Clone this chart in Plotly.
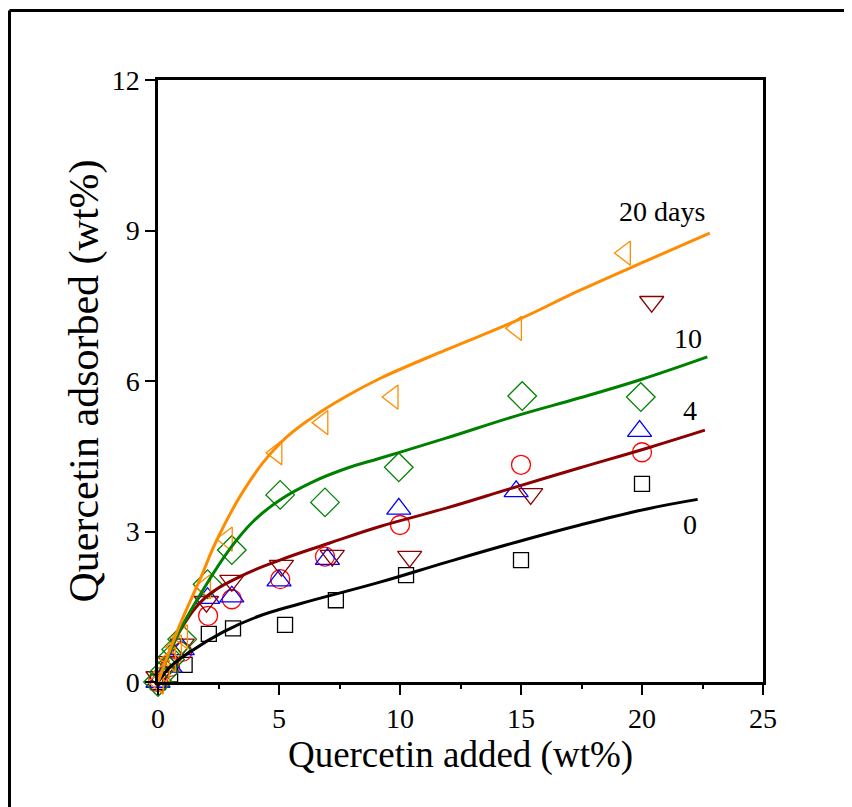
import plotly.graph_objects as go

# ---------------- data ----------------
x_d0 = [0, 0.5, 1.1, 2.1, 3.1, 5.25, 7.35, 10.25, 15.0, 20.0]
y_d0 = [0, 0.15, 0.34, 0.96, 1.07, 1.14, 1.63, 2.13, 2.43, 3.95]

x_d1 = [0, 0.5, 1.0, 2.07, 3.05, 5.05, 6.9, 10.0, 15.0, 20.0]
y_d1 = [0, 0.3, 0.6, 1.32, 1.65, 2.05, 2.5, 3.13, 4.33, 4.58]

x_d2 = [0, 0.5, 1.0, 2.05, 3.05, 5.0, 7.0, 9.95, 14.8, 19.9]
y_d2 = [0, 0.3, 0.65, 1.67, 1.7, 2.02, 2.45, 3.45, 3.8, 5.0]

x_d4 = [0, 0.5, 1.0, 2.0, 3.05, 5.1, 7.2, 10.4, 15.4, 20.4]
y_d4 = [0.1, 0.4, 0.75, 1.6, 2.02, 2.32, 2.52, 2.5, 3.75, 7.58]

x_d10 = [0, 0.25, 0.5, 0.75, 1.0, 2.05, 3.05, 5.05, 6.9, 9.95, 15.05, 19.95]
y_d10 = [0, 0.2, 0.45, 0.65, 0.85, 1.95, 2.63, 3.73, 3.58, 4.28, 5.7, 5.68]

x_d20 = [0, 0.25, 0.5, 0.75, 1.0, 1.95, 2.85, 4.9, 6.8, 9.7, 14.8, 19.3]
y_d20 = [0, 0.2, 0.45, 0.7, 0.9, 1.9, 2.85, 4.57, 5.17, 5.68, 7.05, 8.55]

# fitted curves
fx_0 = [0, 0.5, 1.32, 2.7, 4.1, 5.87, 9.17, 11.94, 14.67, 17.44, 20.2, 22.3]
fy_0 = [0, 0.3, 0.6, 1.0, 1.3, 1.56, 1.99, 2.39, 2.77, 3.13, 3.45, 3.64]

fx_4 = [0, 0.5, 1.0, 2.0, 3.39, 5.04, 7.1, 9.17, 11.94, 14.67, 17.44, 20.2, 22.6]
fy_4 = [0, 0.62, 1.1, 1.7, 2.1, 2.43, 2.77, 3.1, 3.47, 3.87, 4.27, 4.66, 5.02]

fx_10 = [0, 0.5, 1.0, 2.07, 2.98, 3.93, 5.04, 6.4, 7.8, 9.17, 11.9, 14.7, 17.4, 19.9, 22.7]
fy_10 = [0, 0.6, 1.12, 2.0, 2.66, 3.2, 3.63, 3.99, 4.26, 4.46, 4.86, 5.29, 5.66, 6.02, 6.48]

fx_20 = [0, 0.5, 1.0, 1.74, 2.45, 3.65, 5.05, 6.4, 7.8, 9.17, 11.9, 14.7, 17.4, 20.2, 22.8]
fy_20 = [0, 0.65, 1.25, 2.05, 2.85, 3.9, 4.76, 5.28, 5.7, 6.05, 6.62, 7.18, 7.8, 8.4, 8.95]

x_ticks = [0, 5, 10, 15, 20, 25]
y_ticks = [0, 3, 6, 9, 12]

labels = ["20 days", "10", "4", "0"]
label_x = [20.83, 21.9, 22.0, 22.0]
label_y = [9.37, 6.84, 5.42, 3.13]

# ---------------- figure ----------------
FONT = "Liberation Serif"
fig = go.Figure()

def markers(x, y, symbol, color, size):
    fig.add_trace(go.Scatter(
        x=x, y=y, mode="markers", cliponaxis=False, showlegend=False,
        marker=dict(symbol=symbol, size=size, color=color,
                    line=dict(color=color, width=1.3))))

def curve(x, y, color):
    fig.add_trace(go.Scatter(
        x=x, y=y, mode="lines", showlegend=False, cliponaxis=False,
        line=dict(color=color, width=3, shape="spline", smoothing=1.2)))

markers(x_d0, y_d0, "square-open", "black", 15)
markers(x_d1, y_d1, "circle-open", "red", 19)
markers(x_d2, y_d2, "triangle-up-open", "blue", 21)
markers(x_d4, y_d4, "triangle-down-open", "#8B0000", 21)
markers(x_d10, y_d10, "diamond-open", "green", 22)
markers(x_d20, y_d20, "triangle-left-open", "darkorange", 21)

curve(fx_0, fy_0, "black")
curve(fx_4, fy_4, "#8B0000")
curve(fx_10, fy_10, "green")
curve(fx_20, fy_20, "darkorange")

for t, xx, yy in zip(labels, label_x, label_y):
    fig.add_annotation(x=xx, y=yy, text=t, showarrow=False,
                       font=dict(family=FONT, size=28, color="black"))

# page has an 8px body margin; figure size reduced accordingly
W, H = 844, 799
L, T = 150, 72
pw, ph = 605, 602
R, B = W - L - pw, H - T - ph

def px(xp):
    return (xp - L) / pw

def py(yp):
    return (T + ph - yp) / ph

# outer frame (only left and top edges visible)
fig.add_shape(type="line", xref="paper", yref="paper",
              x0=px(1.5), y0=py(2.5), x1=px(1.5), y1=py(H + 5),
              line=dict(color="black", width=3))
fig.add_shape(type="line", xref="paper", yref="paper",
              x0=px(1.5), y0=py(2.5), x1=px(W + 5), y1=py(2.5),
              line=dict(color="black", width=3))

axis_common = dict(showgrid=False, zeroline=False, showline=True,
                   linecolor="black", linewidth=2.5, mirror=True,
                   ticks="outside", ticklen=10, tickwidth=2, tickcolor="black",
                   tickfont=dict(family=FONT, size=28, color="black"))

fig.update_xaxes(range=[0, 25], tickvals=x_ticks,
                 minor=dict(ticks="outside", ticklen=4, tickwidth=1.5,
                            dtick=2.5, tickcolor="black"),
                 title=dict(text="Quercetin added (wt%)",
                            font=dict(family=FONT, size=37, color="black"),
                            standoff=8),
                 **axis_common)
fig.update_yaxes(range=[0, 12], tickvals=y_ticks,
                 title=dict(text="Quercetin adsorbed (wt%)",
                            font=dict(family=FONT, size=42, color="black"),
                            standoff=0),
                 **axis_common)

fig.update_layout(width=W, height=H, margin=dict(l=L, r=R, t=T, b=B),
                  paper_bgcolor="white", plot_bgcolor="white",
                  font=dict(family=FONT, color="black"))

fig.write_html("out.html")
